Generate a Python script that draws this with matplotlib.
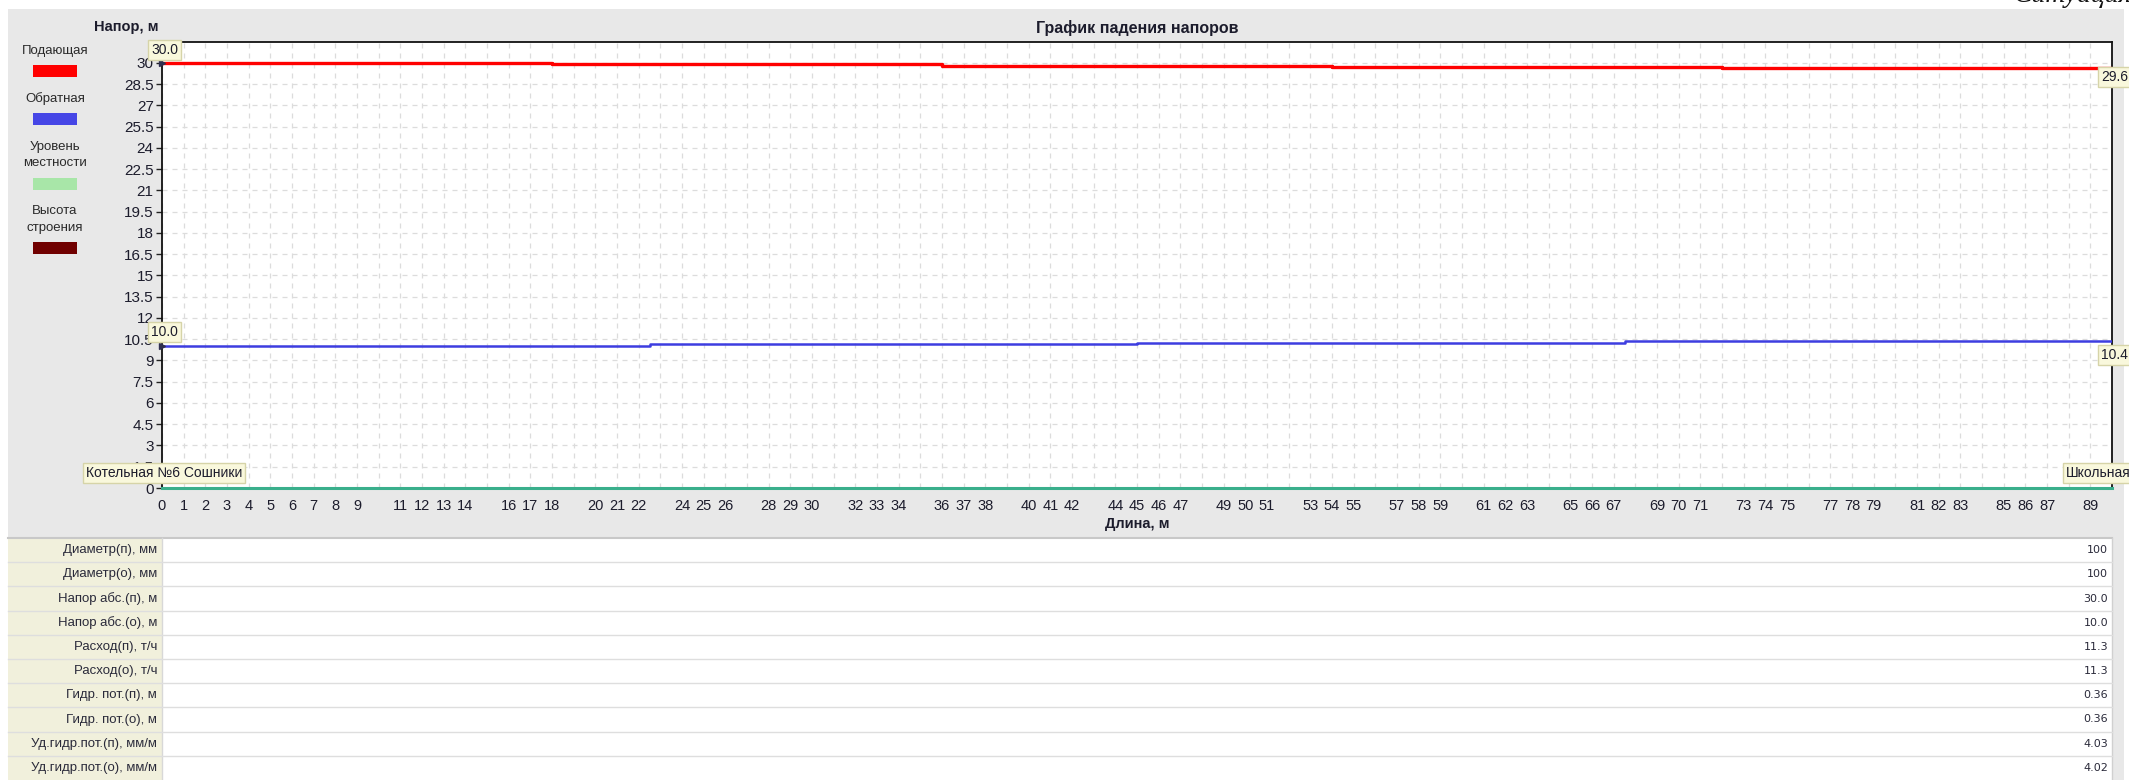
import matplotlib
matplotlib.use("Agg")
import matplotlib.pyplot as plt
from matplotlib.patches import Rectangle
from matplotlib.lines import Line2D

# ---------------- data ----------------
supply_x = [0, 18, 36, 54, 72, 90]
supply_h = [30.0, 29.9, 29.8, 29.7, 29.62]
return_x = [0, 22.5, 45, 67.5, 90]
return_h = [10.04, 10.15, 10.25, 10.36]
ground_x = [0, 90]
ground_h = [0.0, 0.0]

y_ticks = [i * 1.5 for i in range(21)]
x_labels_shown = [0, 1, 2, 3, 4, 5, 6, 7, 8, 9, 11, 12, 13, 14, 16, 17, 18, 20, 21, 22,
                  24, 25, 26, 28, 29, 30, 32, 33, 34, 36, 37, 38, 40, 41, 42, 44, 45, 46, 47,
                  49, 50, 51, 53, 54, 55, 57, 58, 59, 61, 62, 63, 65, 66, 67, 69, 70, 71,
                  73, 74, 75, 77, 78, 79, 81, 82, 83, 85, 86, 87, 89]

legend_labels = ["Подающая", "Обратная", "Уровень\nместности", "Высота\nстроения"]
legend_colors = ["#ff0000", "#4646e6", "#a8e6a8", "#700000"]

start_name = "Котельная №6 Сошники"
end_name = "Школьная"

table_rows = ["Диаметр(п), мм", "Диаметр(о), мм", "Напор абс.(п), м", "Напор абс.(о), м",
              "Расход(п), т/ч", "Расход(о), т/ч", "Гидр. пот.(п), м", "Гидр. пот.(о), м",
              "Уд.гидр.пот.(п), мм/м", "Уд.гидр.пот.(о), мм/м"]
table_values = ["100", "100", "30.0", "10.0", "11.3", "11.3", "0.36", "0.36", "4.03", "4.02"]

# ---------------- layout helpers ----------------
W, H = 2129, 780
plt.rcParams['font.family'] = ['Liberation Sans', 'DejaVu Sans']
fig = plt.figure(figsize=(W / 100, H / 100), dpi=100)
fig.patch.set_facecolor("white")


def fx(x):
    return x / W


def fy(y):
    return 1 - y / H


TXT = "#1c1c2c"

# gray panel
fig.patches.append(Rectangle((fx(8), fy(780)), fx(2124 - 8), (780 - 9) / H,
                             transform=fig.transFigure, facecolor="#e8e8e8",
                             edgecolor="none", zorder=-5))

# top-right clipped heading
fig.text(fx(2132), fy(2), "Ситуация", ha="right", va="baseline", fontsize=20,
         style="italic", family=["Liberation Serif", "DejaVu Serif"], color="#111111")

# ---------------- main axes ----------------
L, R, T, B = 162, 2112, 42, 488
ax = fig.add_axes([fx(L), fy(B), fx(R - L), (B - T) / H])
ax.set_zorder(3)
ax.set_facecolor("white")
ax.set_xlim(0, 90)
ax.set_ylim(0, 31.48)

ax.set_yticks(y_ticks)
ax.set_yticklabels([("%g" % v) for v in y_ticks], fontsize=11, color=TXT)
ax.set_xticks(range(0, 91))
ax.set_xticklabels([str(i) if i in x_labels_shown else "" for i in range(0, 91)],
                   fontsize=10.5, color=TXT)
ax.tick_params(axis="x", length=0, pad=8)
ax.tick_params(axis="y", length=4, width=1, color="#222222", pad=2)
ax.grid(True, color="#dcdcdc", linestyle=(0, (4, 4)), linewidth=0.9)
ax.set_axisbelow(True)
for s in ["left", "top", "right"]:
    ax.spines[s].set_color("#111111")
    ax.spines[s].set_linewidth(1.3)
ax.spines["bottom"].set_visible(False)

# lines
ax.step(ground_x, ground_h, where="post", color="#3aaf8c", lw=2.2, zorder=3, clip_on=False)
ax.step(supply_x, supply_h + [supply_h[-1]], where="post", color="#ff0000", lw=2.4, zorder=4)
ax.step(return_x, return_h + [return_h[-1]], where="post", color="#3d3de0", lw=1.8, zorder=4)
ax.plot([supply_x[0]], [supply_h[0]], marker=">", ms=4, color="#303050", zorder=5, clip_on=False)
ax.plot([return_x[0]], [return_h[0]], marker=">", ms=4, color="#303050", zorder=5, clip_on=False)

box = dict(boxstyle="square,pad=0.22", facecolor="#f9f8dc", edgecolor="#d6d4a8", lw=1)


def tag(x, y, s, dx, dy, va):
    ax.annotate(s, xy=(x, y), xytext=(dx, dy), textcoords="offset pixels",
                ha="left", va=va, fontsize=10, color=TXT, bbox=box,
                annotation_clip=False, zorder=6)


tag(supply_x[0], supply_h[0], "%.1f" % supply_h[0], -11, 6, "bottom")
tag(return_x[0], return_h[0], "%.1f" % return_h[0], -11, 7, "bottom")
tag(supply_x[-1], supply_h[-1], "%.1f" % supply_h[-1], -11, -2, "top")
tag(return_x[-1], return_h[-1], "%.1f" % return_h[-1], -11, -7, "top")
tag(ground_x[0], ground_h[0], start_name, -76, 8, "bottom")
tag(ground_x[-1], ground_h[-1], end_name, -46, 8, "bottom")

# titles
fig.text(fx((L + R) / 2), fy(28), "График падения напоров", ha="center", va="center",
         fontsize=11.5, fontweight="bold", color=TXT)
fig.text(fx(126), fy(27), "Напор, м", ha="center", va="center",
         fontsize=10.5, fontweight="bold", color=TXT)
fig.text(fx((L + R) / 2), fy(524), "Длина, м", ha="center", va="center",
         fontsize=10.5, fontweight="bold", color=TXT)

# legend
leg_text_y = [(51,), (99,), (147, 163), (211, 228)]
leg_rect_y = [65, 113, 178, 242]
for lab, col, ty, ry in zip(legend_labels, legend_colors, leg_text_y, leg_rect_y):
    lines = lab.split("\n")
    for ln, yy in zip(lines, ty):
        fig.text(fx(55), fy(yy), ln, ha="center", va="center", fontsize=9.5, color="#2a2a2a")
    fig.patches.append(Rectangle((fx(33), fy(ry + 12)), fx(44), 12 / H,
                                 transform=fig.transFigure, facecolor=col,
                                 edgecolor="none", zorder=2))

# ---------------- table ----------------
t0 = 538
rh = 24.2
fig.patches.append(Rectangle((fx(8), fy(780)), fx(162 - 8), (780 - t0) / H,
                             transform=fig.transFigure, facecolor="#f1f0dc",
                             edgecolor="none", zorder=1))
fig.patches.append(Rectangle((fx(162), fy(780)), fx(2112 - 162), (780 - t0) / H,
                             transform=fig.transFigure, facecolor="white",
                             edgecolor="none", zorder=1))
fig.lines.append(Line2D([fx(8), fx(2112)], [fy(t0), fy(t0)], transform=fig.transFigure,
                        color="#c8c8c8", lw=1.5, zorder=3))
fig.lines.append(Line2D([fx(162), fx(162)], [fy(t0), fy(780)], transform=fig.transFigure,
                        color="#d8d8d8", lw=1, zorder=3))
fig.lines.append(Line2D([fx(2112), fx(2112)], [fy(t0), fy(780)], transform=fig.transFigure,
                        color="#d0d0d0", lw=1, zorder=3))
for i, (lab, val) in enumerate(zip(table_rows, table_values)):
    yc = t0 + rh * (i + 0.5)
    fig.text(fx(157), fy(yc), lab, ha="right", va="center", fontsize=9.5, color="#2a2a3a", zorder=4)
    fig.text(fx(2108), fy(yc), val, ha="right", va="center", fontsize=8,
             family=["DejaVu Sans"], color="#2a2a3a", zorder=4)
    if i > 0:
        yb = t0 + rh * i
        fig.lines.append(Line2D([fx(8), fx(2112)], [fy(yb), fy(yb)], transform=fig.transFigure,
                                color="#dedede", lw=1, zorder=3))

fig.savefig("out.png", dpi=100, facecolor=fig.get_facecolor())
